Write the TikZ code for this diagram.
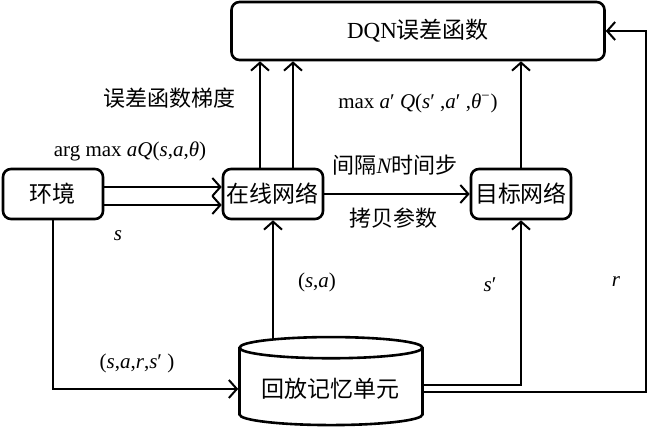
\documentclass[tikz,border=0pt]{standalone}
\usepackage{fontspec}
\setmainfont{Liberation Serif}
\newfontfamily\cjk{Noto Sans CJK SC}
\usetikzlibrary{calc,shapes.geometric,arrows.meta}

\tikzset{
  box/.style={draw,line width=1.3pt,rounded corners=4pt,inner sep=0pt,
    minimum width=50pt,minimum height=25pt,font=\cjk\fontsize{11.5}{13}\selectfont},
  flow/.style={line width=1pt,-{Straight Barb[length=4pt,width=9pt]}},
  lbl/.style={inner sep=0pt,font=\fontsize{10.5}{12}\selectfont},
  zh/.style={inner sep=0pt,font=\cjk\fontsize{11}{13}\selectfont}
}

\begin{document}
\begin{tikzpicture}[x=0.5pt,y=-0.5pt]
\useasboundingbox (0,0) rectangle (650,433);
\node[box,minimum width=186.5pt,minimum height=29pt] (dqn) at (418,31) {{\rmfamily DQN}误差函数};
\node[box] (env) at (53,194) {环境};
\node[box] (online) at (273,194) {在线网络};
\node[box] (target) at (521,194) {目标网络};
\node[cylinder,shape border rotate=90,draw,line width=1.3pt,aspect=0.14,
  minimum width=91.5pt,minimum height=44pt,
  font=\cjk\fontsize{11.5}{13}\selectfont] (mem) at (331,389) {回放记忆单元};
\coordinate (g1) at ($(online.north)+(-13,0)$);
\coordinate (g2) at ($(online.north)+(20,0)$);
\coordinate (rr) at (646,0);
% arrows
\draw[flow] ($(env.east)+(0,-7)$) -- ($(online.west)+(0,-7)$);
\draw[flow] ($(env.east)+(0,11)$) -- ($(online.west)+(0,11)$);
\draw[flow] (g1) -- (g1 |- dqn.south);
\draw[flow] (g2) -- (g2 |- dqn.south);
\draw[flow] (online) -- (target);
\draw[flow] (target.north) -- (target.north |- dqn.south);
\draw[flow] (env.south) |- (mem.west);
\draw[flow] ($(mem.north -| online.south)+(0,2)$) -- (online.south);
\draw[flow] ($(mem.east)+(0,-4)$) -| (target.south);
\draw[flow] ($(mem.east)+(0,3)$) -| (rr |- dqn.east) -- (dqn.east);
% labels
\node[zh] (grad) at (170,98) {误差函数梯度};
\node[lbl] (argmax) at (130,151) {arg max \textit{aQ}(\textit{s},\textit{a},\textit{θ})};
\node[lbl] (maxq) at (418,103) {max \textit{a}′ \textit{Q}(\textit{s}′ ,\textit{a}′ ,\textit{θ}\textsuperscript{−})};
\node[zh] (every) at (395,165) {间隔{\rmfamily\itshape N}时间步};
\node[zh] (copy) at (394,218) {拷贝参数};
\node[lbl] (s) at (118,236) {\textit{s}};
\node[lbl] (sa) at (317,282) {(\textit{s},\textit{a})};
\node[lbl] (sp) at (490,285) {\textit{s}′};
\node[lbl] (r) at (616,282) {\textit{r}};
\node[lbl] (sars) at (137,363) {(\textit{s},\textit{a},\textit{r},\textit{s}′ )};
\end{tikzpicture}
\end{document}
